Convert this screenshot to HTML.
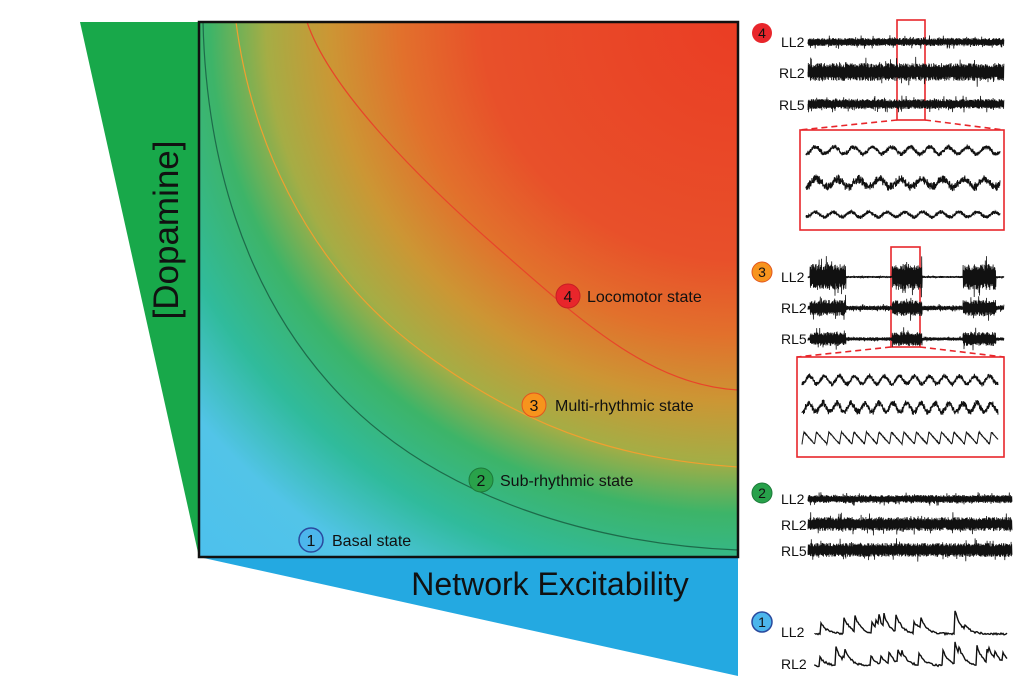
<!DOCTYPE html>
<html><head><meta charset="utf-8"><style>
html,body{margin:0;padding:0;background:#fff;}
svg{display:block;font-family:"Liberation Sans",Arial,sans-serif;}
</style></head><body>
<svg id="s" width="1024" height="677" viewBox="0 0 1024 677" xmlns="http://www.w3.org/2000/svg">
<defs>
<radialGradient id="g" gradientUnits="userSpaceOnUse" cx="738" cy="22" r="800" gradientTransform="translate(0 22) scale(1 0.93) translate(0 -22)">
<stop offset="0" stop-color="#ea3d24"/>
<stop offset="0.32" stop-color="#e8502a"/>
<stop offset="0.42" stop-color="#e2702c"/>
<stop offset="0.51" stop-color="#cc9634"/>
<stop offset="0.59" stop-color="#a5ad45"/>
<stop offset="0.66" stop-color="#3db468"/>
<stop offset="0.76" stop-color="#30bb9c"/>
<stop offset="0.86" stop-color="#52c4e8"/>
<stop offset="1" stop-color="#4cc0ee"/>
</radialGradient>
</defs>
<polygon points="80,22 199,22 199,557" fill="#18a84a"/>
<polygon points="199,557 738,557 738,676" fill="#24a9e1"/>
<rect x="199" y="22" width="539" height="535" fill="url(#g)"/>
<path d="M307,22 C330,90 420,180 500,250 S 650,385 738,390" fill="none" stroke="#e8442a" stroke-width="1.2"/>
<path d="M236,22 C250,130 300,260 420,350 S 640,460 738,467" fill="none" stroke="#f0a030" stroke-width="1.2"/>
<path d="M203,22 C206,150 240,290 340,395 S 600,545 738,550" fill="none" stroke="#1d6b4a" stroke-width="1.2"/>
<rect x="199" y="22" width="539" height="535" fill="none" stroke="#111" stroke-width="2.5"/>
<text transform="translate(178 230) rotate(-90)" text-anchor="middle" font-size="35" fill="#111">[Dopamine]</text>
<text x="550" y="595" text-anchor="middle" font-size="32" fill="#111">Network Excitability</text>
<g font-size="16" fill="#111">
<circle cx="568" cy="296" r="12" fill="#e8262b" stroke="#c81e24"/><text x="568" y="302" text-anchor="middle">4</text><text x="587" y="302">Locomotor state</text>
<circle cx="534" cy="405" r="12" fill="#f7941d" stroke="#e2551f"/><text x="534" y="411" text-anchor="middle">3</text><text x="555" y="411">Multi-rhythmic state</text>
<circle cx="481" cy="480" r="12" fill="#29a24a" stroke="#1d7a3a"/><text x="481" y="486" text-anchor="middle">2</text><text x="500" y="486">Sub-rhythmic state</text>
<circle cx="311" cy="540" r="12" fill="#4cb6ec" stroke="#2a4a9e" stroke-width="1.5"/><text x="311" y="546" text-anchor="middle">1</text><text x="332" y="546">Basal state</text>
</g>
<g font-size="14" fill="#111">
<circle cx="762" cy="33" r="10" fill="#e8262b"/><text x="762" y="38" text-anchor="middle" font-size="14">4</text>
<text x="781" y="47">LL2</text><text x="779" y="78">RL2</text><text x="779" y="110">RL5</text>
<circle cx="762" cy="272" r="10" fill="#f7941d" stroke="#e2551f"/><text x="762" y="277" text-anchor="middle" font-size="14">3</text>
<text x="781" y="282">LL2</text><text x="781" y="313">RL2</text><text x="781" y="344">RL5</text>
<circle cx="762" cy="493" r="10" fill="#27a14a" stroke="#1d7a3a"/><text x="762" y="498" text-anchor="middle" font-size="14">2</text>
<text x="781" y="504">LL2</text><text x="781" y="530">RL2</text><text x="781" y="556">RL5</text>
<circle cx="762" cy="622" r="10" fill="#4cb6ec" stroke="#2a4a9e" stroke-width="1.5"/><text x="762" y="627" text-anchor="middle" font-size="14">1</text>
<text x="781" y="637">LL2</text><text x="781" y="669">RL2</text>
</g>
<g fill="none" stroke="#e8262b" stroke-width="1.6">
<rect x="897" y="20" width="28" height="100"/>
<rect x="800" y="130" width="204" height="100"/>
<path d="M897,120 L800,130 M925,120 L1004,130" stroke-dasharray="6,4"/>
<rect x="891" y="247" width="29" height="100"/>
<rect x="797" y="357" width="207" height="100"/>
<path d="M891,347 L797,357 M920,347 L1004,357" stroke-dasharray="6,4"/>
</g>
<g id="tr" fill="none" stroke="#111" stroke-width="0.9"></g>
</svg>
<script>
var seed=7;function r(){seed=(seed*16807)%2147483647;return seed/2147483647;}
var g=document.getElementById('tr');
function add(d,w){var p=document.createElementNS('http://www.w3.org/2000/svg','path');p.setAttribute('d',d);if(w)p.setAttribute('stroke-width',w);g.appendChild(p);}
function noise(x0,x1,y,amp,env){var d='M'+x0+','+y;var s=1;for(var x=x0;x<=x1;x+=0.3){var a=amp*(env?env(x):1);d+=' L'+x.toFixed(1)+','+(y+s*a*(0.5+r()*0.5)*(r()<0.06?1.7:1)).toFixed(1);s=-s;}add(d,0.8);}
function wave(x0,x1,y,amp,per,nz,shape){var d='M'+x0+','+y;var s=1;for(var x=x0;x<=x1;x+=0.4){var ph=((x-x0)/per)%1;var w;if(shape){w=ph<0.15?-amp*ph/0.15:-amp*(1-(ph-0.15)/0.85);}else{w=-Math.pow(Math.abs(Math.sin(Math.PI*ph)),2)*amp;}d+=' L'+x.toFixed(1)+','+(y+w+s*r()*nz).toFixed(1);s=-s;}add(d,1);}
noise(808,1004,42,4);noise(808,1004,72,9);noise(808,1004,104,5);
wave(806,1000,154,7,19,2.5);wave(806,1000,187,8,21,4.5);wave(806,1000,217,5,18,2);
function burst(c){return function(x){var b=[[810,846],[892,922],[963,996]];for(var i=0;i<b.length;i++){if(x>=b[i][0]&&x<=b[i][1])return 1;}return c;};}
noise(808,1004,277,13,burst(0.08));noise(808,1004,308,8,burst(0.3));noise(808,1004,339,7,burst(0.25));
wave(802,998,384,8,15,2.5);wave(802,998,412,9,14,3.5);wave(802,998,444,12,12.5,0.6,1);
noise(808,1012,499,4);noise(808,1012,524,7);noise(808,1012,550,7);
function spiky(y){var d='M815,'+y;var v=0;for(var x=815;x<=1007;x+=1){if(r()<0.08)v=10+r()*14;if(Math.abs(x-955)<1)v=28;v*=0.85;d+=' L'+x+','+(y-v+(r()-0.5)*2).toFixed(1);}add(d,1.4);}
spiky(634);spiky(666);
</script>
</body></html>
